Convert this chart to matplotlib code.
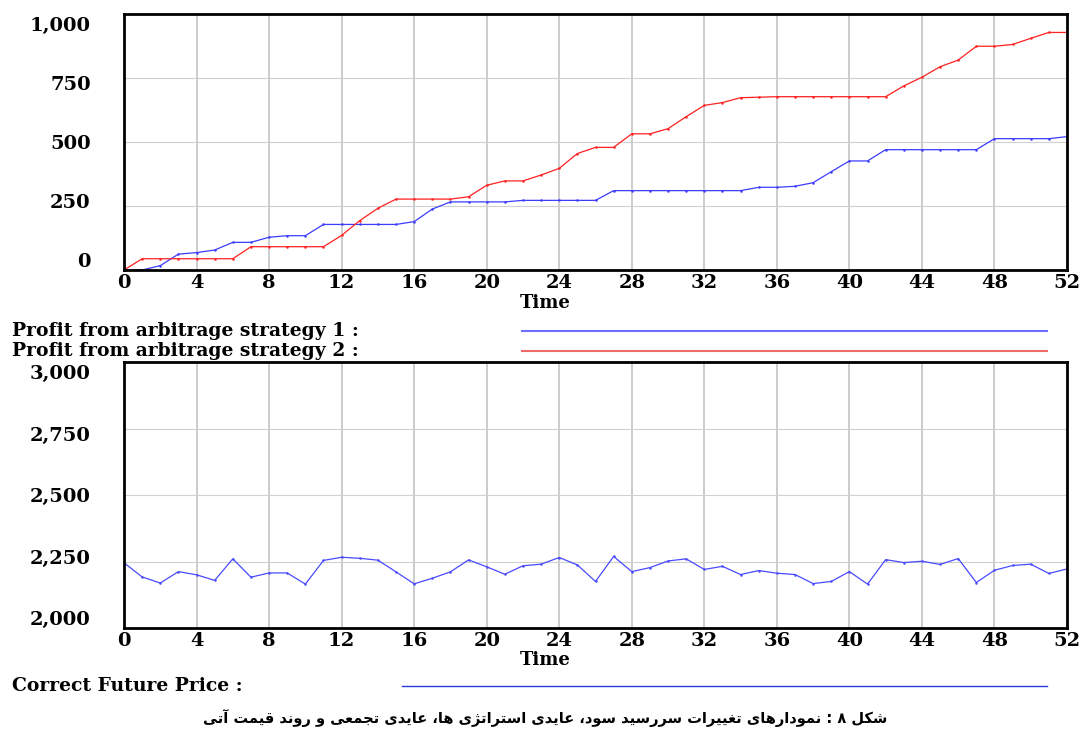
import numpy as np
import matplotlib
matplotlib.use("Agg")
import matplotlib.pyplot as plt
from matplotlib.transforms import ScaledTranslation

# weekly series from the simulation run
time = np.arange(53)
profit_1 = [0, 0, 17, 62, 68, 78, 108, 108, 128, 134, 134, 178, 178, 178, 178, 178,
            189, 238, 266, 266, 266, 266, 272, 272, 272, 272, 272, 310, 310, 310,
            310, 310, 310, 310, 310, 323, 323, 327, 341, 384, 426, 426, 470, 470,
            470, 470, 470, 470, 513, 513, 513, 513, 521]
profit_2 = [0, 44, 44, 44, 44, 44, 44, 91, 91, 91, 91, 91, 135, 193, 241, 277, 277,
            277, 277, 286, 331, 348, 348, 371, 397, 455, 479, 479, 532, 532, 552,
            599, 643, 654, 673, 675, 677, 677, 677, 677, 677, 677, 677, 719, 753,
            794, 820, 874, 874, 881, 905, 928, 928]
future_price = [2245, 2192, 2169, 2212, 2200, 2179, 2260, 2191, 2207, 2207, 2165,
                2254, 2266, 2262, 2255, 2211, 2166, 2187, 2211, 2256, 2230, 2202,
                2234, 2240, 2265, 2237, 2175, 2269, 2212, 2227, 2252, 2260, 2220,
                2232, 2201, 2216, 2206, 2201, 2167, 2175, 2212, 2165, 2257, 2246,
                2251, 2239, 2261, 2171, 2217, 2235, 2240, 2205, 2222]

x_ticks = list(range(0, 53, 4))
top_ticks = [0, 250, 500, 750, 1000]
bottom_ticks = [2000, 2250, 2500, 2750, 3000]

legend_1 = "Profit from arbitrage strategy 1 :"
legend_2 = "Profit from arbitrage strategy 2 :"
legend_3 = "Correct Future Price :"
caption = "شکل ۸ : نمودارهای تغییرات سررسید سود، عایدی استراتژی ها، عایدی تجمعی و روند قیمت آتی"

# contextual forms: isolated, final, initial, medial
FORMS = {
    'ا': ('\uFE8D', '\uFE8E', None, None),
    'آ': ('\uFE81', '\uFE82', None, None),
    'د': ('\uFEA9', '\uFEAA', None, None),
    'ر': ('\uFEAD', '\uFEAE', None, None),
    'ژ': ('\uFB8A', '\uFB8B', None, None),
    'و': ('\uFEED', '\uFEEE', None, None),
    'ت': ('\uFE95', '\uFE96', '\uFE97', '\uFE98'),
    'ج': ('\uFE9D', '\uFE9E', '\uFE9F', '\uFEA0'),
    'س': ('\uFEB1', '\uFEB2', '\uFEB3', '\uFEB4'),
    'ش': ('\uFEB5', '\uFEB6', '\uFEB7', '\uFEB8'),
    'ع': ('\uFEC9', '\uFECA', '\uFECB', '\uFECC'),
    'غ': ('\uFECD', '\uFECE', '\uFECF', '\uFED0'),
    'ق': ('\uFED5', '\uFED6', '\uFED7', '\uFED8'),
    'ک': ('\uFB8E', '\uFB8F', '\uFB90', '\uFB91'),
    'ل': ('\uFEDD', '\uFEDE', '\uFEDF', '\uFEE0'),
    'م': ('\uFEE1', '\uFEE2', '\uFEE3', '\uFEE4'),
    'ن': ('\uFEE5', '\uFEE6', '\uFEE7', '\uFEE8'),
    'ه': ('\uFEE9', '\uFEEA', '\uFEEB', '\uFEEC'),
    'ی': ('\uFBFC', '\uFBFD', '\uFBFE', '\uFBFF'),
}


def shape_rtl(text):
    out = []
    for i, ch in enumerate(text):
        forms = FORMS.get(ch)
        if forms is None:
            out.append(ch)
            continue
        prev = text[i - 1] if i > 0 else ''
        nxt = text[i + 1] if i + 1 < len(text) else ''
        join_prev = prev in FORMS and FORMS[prev][2] is not None
        join_next = forms[2] is not None and nxt in FORMS
        if join_prev and join_next:
            out.append(forms[3])
        elif join_prev:
            out.append(forms[1])
        elif join_next:
            out.append(forms[2])
        else:
            out.append(forms[0])
    return ''.join(reversed(out))


tick_font = dict(family='DejaVu Serif', weight='bold', size=14)
label_font = dict(family='DejaVu Serif', weight='bold', size=13)
legend_font = dict(family='DejaVu Serif', weight='bold', size=13.5)

fig = plt.figure(figsize=(10.84, 7.33), dpi=100)
fig.patch.set_facecolor('white')

ax1 = fig.add_axes([124 / 1084, 1 - 270 / 733, 943 / 1084, 256 / 733])
ax2 = fig.add_axes([124 / 1084, 1 - 628 / 733, 943 / 1084, 266 / 733])


def style_axes(ax, yticks, ylim):
    ax.set_xlim(0, 52)
    ax.set_ylim(*ylim)
    ax.set_xticks(x_ticks)
    ax.set_xticklabels([str(v) for v in x_ticks], fontdict=tick_font)
    ax.set_yticks(yticks)
    ax.set_yticklabels([f"{v:,}" for v in yticks], fontdict=tick_font)
    ax.tick_params(length=0, pad=3)
    ax.tick_params(axis='y', pad=24)
    ax.xaxis.grid(True, color='#c8c8c8', lw=1.3)
    ax.yaxis.grid(True, color='#d0d0d0', lw=0.8)
    ax.set_axisbelow(True)
    for s in ax.spines.values():
        s.set_linewidth(2)
        s.set_color('black')
    # end labels sit inside the range, middle ones spread evenly between
    n = len(yticks) - 1
    for i, lab in enumerate(ax.get_yticklabels()):
        dy = (10 - 20 * i / n) / 100
        lab.set_transform(lab.get_transform() + ScaledTranslation(0, dy, fig.dpi_scale_trans))


style_axes(ax1, top_ticks, (0, 1000))
style_axes(ax2, bottom_ticks, (2000, 3000))

ax1.plot(time, profit_1, color='#3c3cff', lw=0.9, marker='o', ms=0.8)
ax1.plot(time, profit_2, color='#ff2020', lw=0.9, marker='o', ms=0.8)
ax2.plot(time, future_price, color='#4a4aff', lw=0.9, marker='o', ms=0.8)

# axis titles and legends in figure pixels
def px(x, y):
    return x / 1084, 1 - y / 733

fig.text(*px(545, 303), "Time", ha='center', va='center', **label_font)
fig.text(*px(545, 660), "Time", ha='center', va='center', **label_font)

fig.text(*px(12, 331), legend_1, ha='left', va='center', **legend_font)
fig.text(*px(12, 351), legend_2, ha='left', va='center', **legend_font)
fig.text(*px(12, 686), legend_3, ha='left', va='center', **legend_font)
fig.add_artist(plt.Line2D([522 / 1084, 1047 / 1084], [1 - 331 / 733] * 2, color='#6e6eff', lw=1.5))
fig.add_artist(plt.Line2D([522 / 1084, 1047 / 1084], [1 - 351 / 733] * 2, color='#f06a6a', lw=1.5))
fig.add_artist(plt.Line2D([402 / 1084, 1047 / 1084], [1 - 686 / 733] * 2, color='#2a3ae0', lw=1.0))

fig.text(*px(545, 718), shape_rtl(caption), ha='center', va='center',
         family=['DejaVu Sans'], weight='bold', size=10.5)

fig.savefig('out.png', dpi=100, facecolor='white')
